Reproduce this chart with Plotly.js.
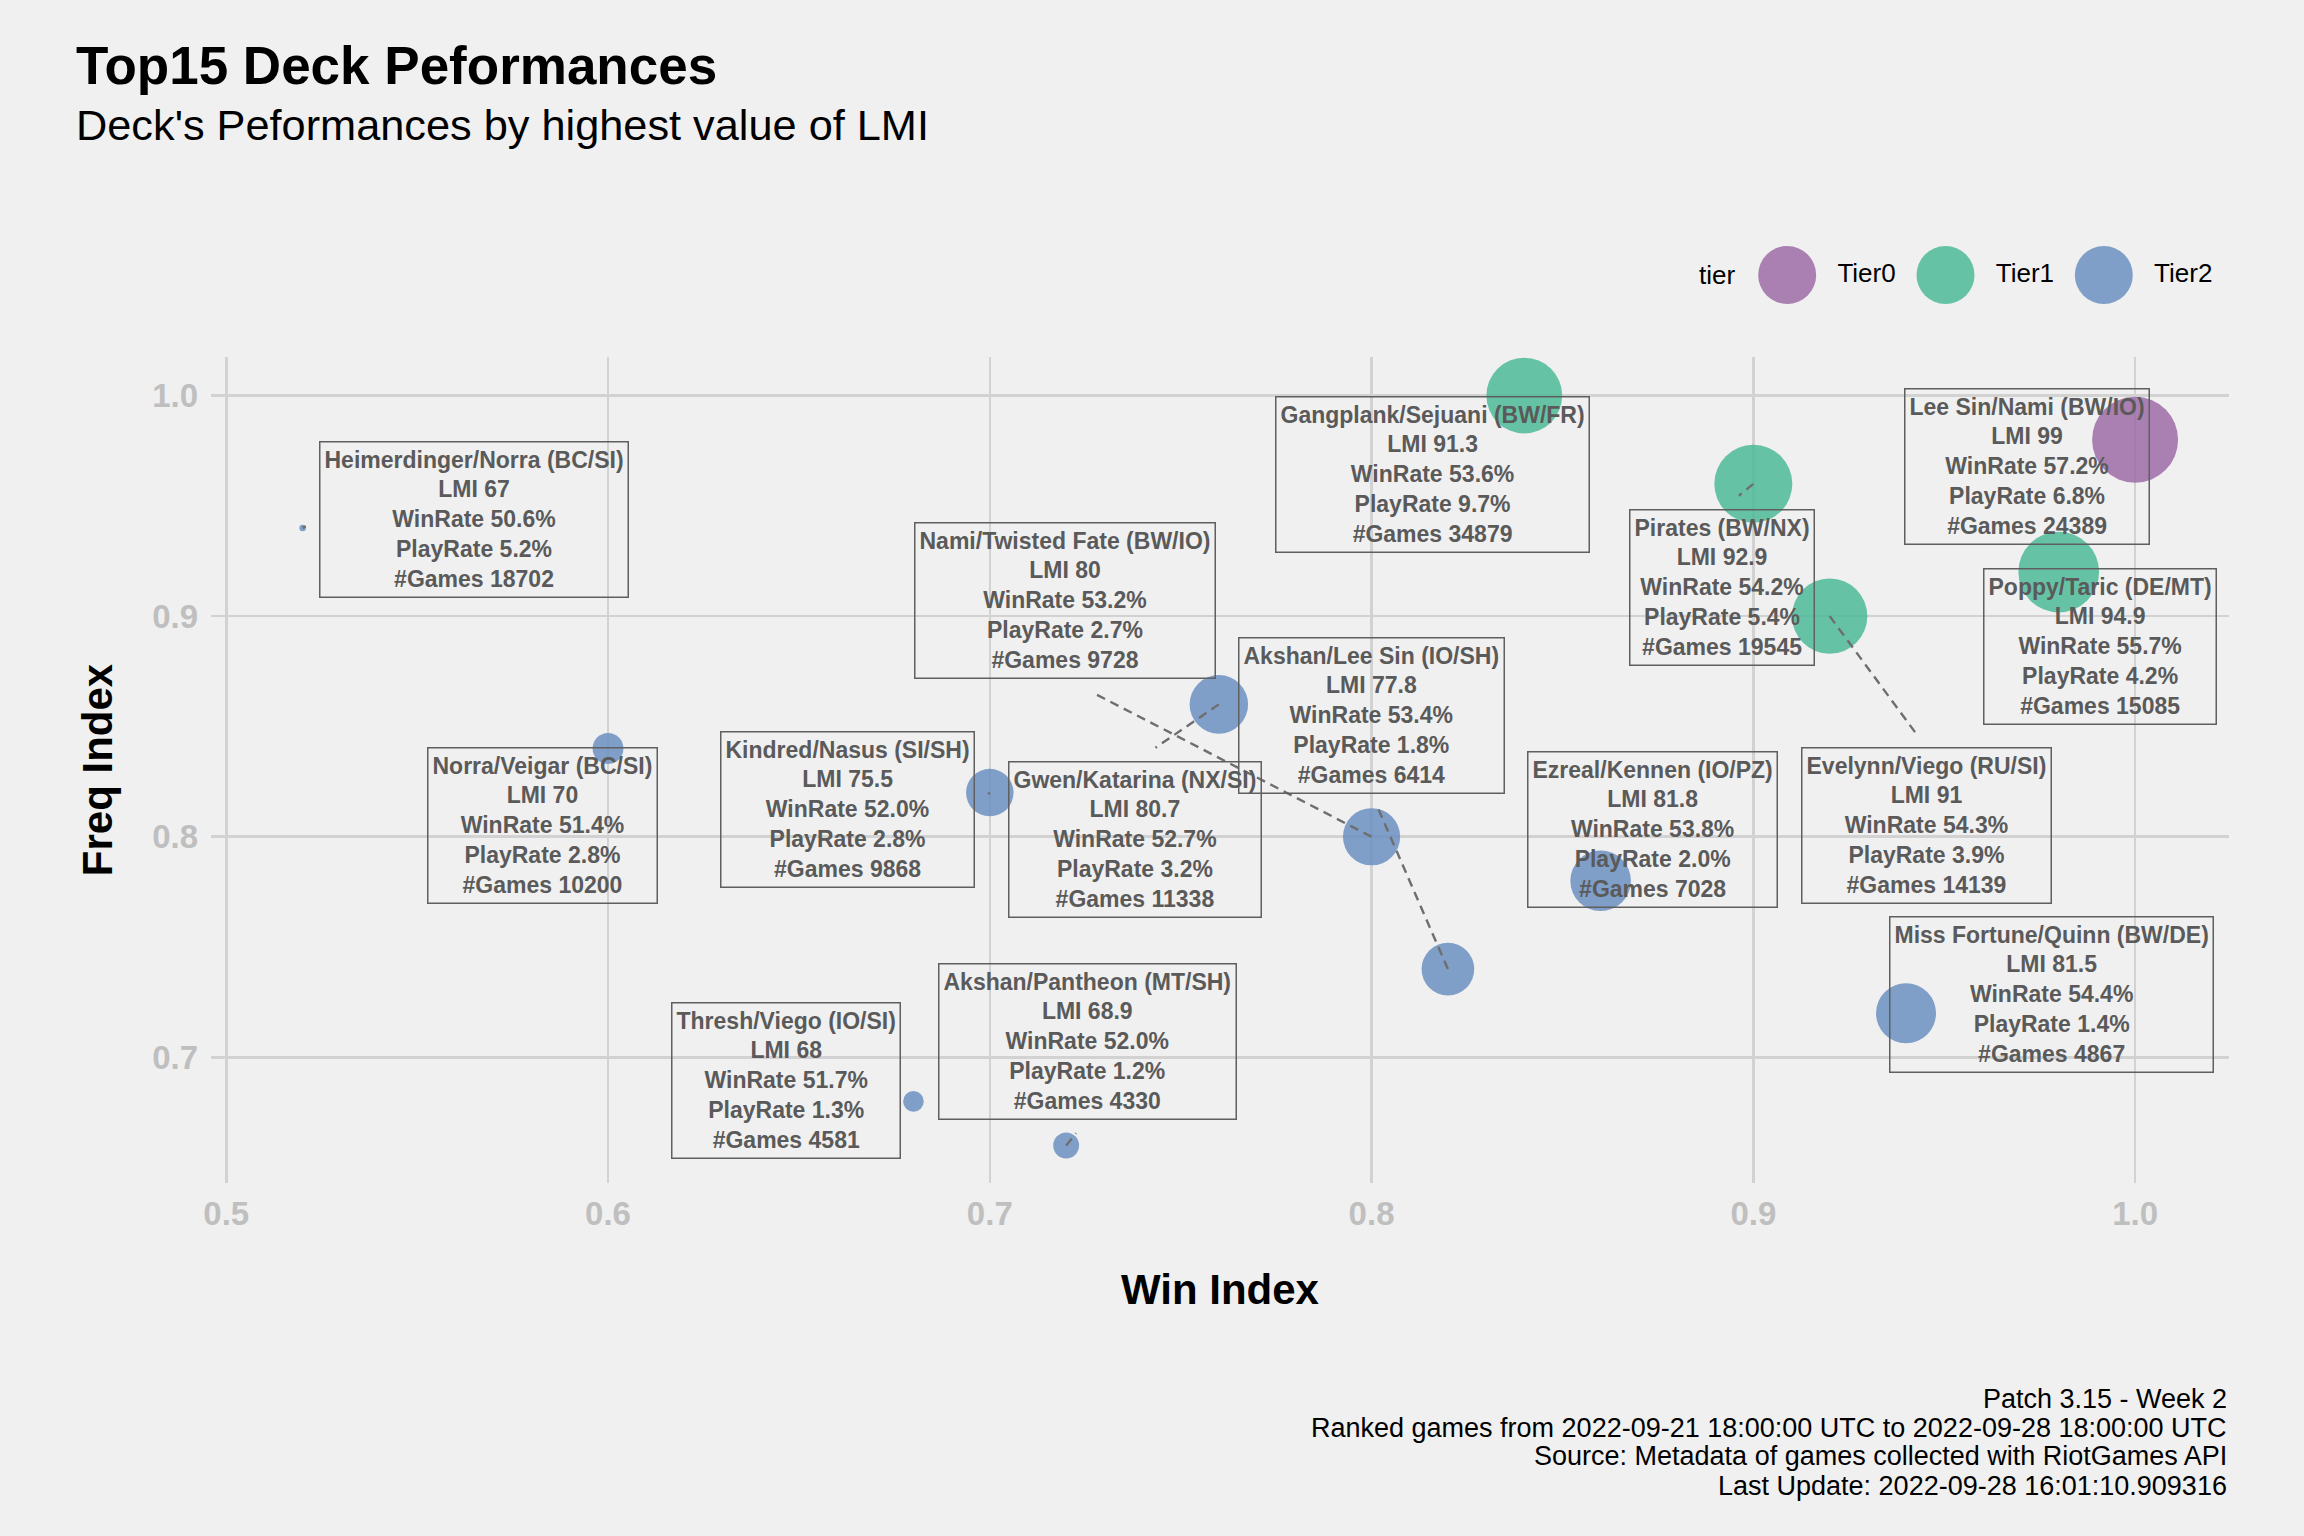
<!DOCTYPE html>
<html><head><meta charset="utf-8">
<script src="https://cdn.plot.ly/plotly-3.0.1.min.js"></script>
<style>html,body{margin:0;padding:0;background:#F0F0F0;} #chart{width:2304px;height:1536px;}</style>
</head><body><div id="chart"></div>
<script>
// ---------------- data ----------------
const decks = [
  'Lee Sin/Nami (BW/IO)', 'Gangplank/Sejuani (BW/FR)', 'Pirates (BW/NX)', 'Poppy/Taric (DE/MT)',
  'Evelynn/Viego (RU/SI)', 'Gwen/Katarina (NX/SI)', 'Norra/Veigar (BC/SI)', 'Kindred/Nasus (SI/SH)',
  'Nami/Twisted Fate (BW/IO)', 'Ezreal/Kennen (IO/PZ)', 'Akshan/Lee Sin (IO/SH)', 'Miss Fortune/Quinn (BW/DE)',
  'Heimerdinger/Norra (BC/SI)', 'Thresh/Viego (IO/SI)', 'Akshan/Pantheon (MT/SH)'
];
const tiers = ['Tier0','Tier1','Tier1','Tier1','Tier1','Tier2','Tier2','Tier2','Tier2','Tier2','Tier2','Tier2','Tier2','Tier2','Tier2'];
const winIndex  = [1.00, 0.84, 0.90, 0.98, 0.92, 0.76, 0.60, 0.70, 0.80, 0.86, 0.82, 0.94, 0.52, 0.68, 0.72];
const freqIndex = [0.98, 1.00, 0.96, 0.92, 0.90, 0.86, 0.84, 0.82, 0.80, 0.78, 0.74, 0.72, 0.94, 0.68, 0.66];
const lmi       = [99, 91.3, 92.9, 94.9, 91, 80.7, 70, 75.5, 80, 81.8, 77.8, 81.5, 67, 68, 68.9];
const winRate   = [57.2, 53.6, 54.2, 55.7, 54.3, 52.7, 51.4, 52.0, 53.2, 53.8, 53.4, 54.4, 50.6, 51.7, 52.0];
const playRate  = [6.8, 9.7, 5.4, 4.2, 3.9, 3.2, 2.8, 2.8, 2.7, 2.0, 1.8, 1.4, 5.2, 1.3, 1.2];
const nGames    = [24389, 34879, 19545, 15085, 14139, 11338, 10200, 9868, 9728, 7028, 6414, 4867, 18702, 4581, 4330];
const tierNames = ['Tier0','Tier1','Tier2'];
const xTicks = [0.5, 0.6, 0.7, 0.8, 0.9, 1.0];
const yTicks = [0.7, 0.8, 0.9, 1.0];
const captionLines = [
  'Patch 3.15 - Week 2',
  'Ranked games from 2022-09-21 18:00:00 UTC to 2022-09-28 18:00:00 UTC',
  'Source: Metadata of games collected with RiotGames API',
  'Last Update: 2022-09-28 16:01:10.909316'
];

// ---------------- layout helpers (label placement, styles) ----------------
const labelX = [0.9716, 0.8160, 0.8919, 0.9908, 0.9454, 0.7380, 0.5828, 0.6628, 0.7198, 0.8737, 0.8001, 0.9781, 0.5650, 0.6467, 0.7256];
const labelY = [0.9680, 0.9641, 0.9129, 0.8862, 0.8053, 0.7986, 0.8051, 0.8124, 0.9069, 0.8031, 0.8551, 0.7285, 0.9440, 0.6893, 0.7073];
const tierColors = {Tier0:'rgba(158,108,167,0.85)', Tier1:'rgba(78,186,152,0.85)', Tier2:'rgba(108,144,193,0.85)'};
const W = 2304, H = 1536;
const FONT = 'Liberation Sans, Arial, sans-serif';
const lmiMin = Math.min(...lmi), lmiMax = Math.max(...lmi);
function sizeOf(v){ return 6.5 + (86 - 6.5) * Math.sqrt((v - lmiMin) / (lmiMax - lmiMin)); }

const traces = tierNames.map(t => {
  const idx = decks.map((d,i)=>i).filter(i => tiers[i] === t);
  return {
    type:'scatter', mode:'markers', name:t,
    x: idx.map(i=>winIndex[i]), y: idx.map(i=>freqIndex[i]),
    marker:{size: idx.map(i=>sizeOf(lmi[i])), sizemode:'diameter', color: tierColors[t], opacity:1, line:{width:0}},
    hoverinfo:'skip', showlegend:false, cliponaxis:false
  };
});
// legend keys (custom, large keys)
traces.push({
  type:'scatter', mode:'markers+text', x: tierNames, y: tierNames.map(()=>0), xaxis:'x2', yaxis:'y2',
  text: tierNames.map(t=>'\u2002' + t), textposition:'middle right',
  textfont:{size:26, color:'#000', family:FONT},
  marker:{size:58, color: tierNames.map(t=>tierColors[t]), opacity:1, line:{width:0}},
  hoverinfo:'skip', showlegend:false, cliponaxis:false
});

const annotations = decks.map((d,i)=>({
  x: labelX[i], y: labelY[i], xref:'x', yref:'y', xanchor:'center', yanchor:'middle', showarrow:false,
  text: d + '<br>LMI ' + lmi[i] + '<br>WinRate ' + winRate[i].toFixed(1) + '%<br>PlayRate ' + playRate[i].toFixed(1) + '%<br>#Games ' + nGames[i],
  font:{family:FONT, size:23, color:'#5A5A5A', weight:700},
  bordercolor:'#5F5F5F', borderwidth:1.5, borderpad:4, bgcolor:'rgba(0,0,0,0)', align:'center'
}));
const capY = [1399, 1428, 1456, 1486];
captionLines.forEach((c,i)=>annotations.push({
  x: 2229/W, y: 1 - capY[i]/H, xref:'paper', yref:'paper', xanchor:'right', yanchor:'middle', showarrow:false,
  text: c, font:{family:FONT, size:27, color:'#000'}
}));
annotations.push({x:1737/W, y:1-275/H, xref:'paper', yref:'paper', xanchor:'right', yanchor:'middle', showarrow:false,
  text:'tier', font:{family:FONT, size:26, color:'#000'}});
annotations.push({x:74/W, y:1-125/H, xref:'paper', yref:'paper', xanchor:'left', yanchor:'middle', showarrow:false,
  text:"Deck's Peformances by highest value of LMI", font:{family:FONT, size:43.3, color:'#000'}});

const axisCommon = {
  showgrid:true, gridcolor:'#D2D2D2', gridwidth:2.5, zeroline:false, showline:false,
  ticks:'', tickfont:{family:FONT, size:33, color:'#BFBFBF', weight:700}, tickformat:'.1f'
};
const layout = {
  width:W, height:H, margin:{l:0,r:0,t:0,b:0,autoexpand:false},
  paper_bgcolor:'#F0F0F0', plot_bgcolor:'#F0F0F0', showlegend:false,
  font:{family:FONT},
  title:{text:'Top15 Deck Peformances', font:{family:FONT, size:53, color:'#000', weight:700},
         x:76/W, xanchor:'left', xref:'paper', y:1-65/H, yanchor:'middle', yref:'paper'},
  xaxis:Object.assign({}, axisCommon, {domain:[211/W, 2229/W], range:[0.496, 1.0246], tickvals:xTicks, ticklabelstandoff:8,
         title:{text:'Win Index', font:{family:FONT, size:42, color:'#000', weight:700}, standoff:43}}),
  yaxis:Object.assign({}, axisCommon, {domain:[1-1183/H, 1-357/H], range:[0.643, 1.0175], tickvals:yTicks, ticklabelstandoff:12,
         title:{text:'Freq Index', font:{family:FONT, size:42, color:'#000', weight:700}, standoff:26}}),
  xaxis2:{domain:[1708/W, 2183/W], range:[-0.5, 2.5], type:'category', visible:false, anchor:'y2', fixedrange:true},
  yaxis2:{domain:[1-295/H, 1-255/H], range:[-1, 1], visible:false, anchor:'x2', fixedrange:true},
  annotations: annotations
};

const gd = document.getElementById('chart');
Plotly.newPlot(gd, traces, layout, {staticPlot:true, displayModeBar:false}).then(() => {
  const xa = gd._fullLayout.xaxis, ya = gd._fullLayout.yaxis;
  const gb = gd.getBoundingClientRect();
  const groups = gd.querySelectorAll('.annotation');
  const shapes = [];
  const pad = 14, tol = 8;
  decks.forEach((d, i) => {
    const rect = groups[i] && groups[i].querySelector('rect.bg');
    if (!rect) return;
    const r = rect.getBoundingClientRect();
    const x1 = r.left - gb.left, x2 = r.right - gb.left, y1 = r.top - gb.top, y2 = r.bottom - gb.top;
    const px = xa._offset + xa.l2p(winIndex[i]), py = ya._offset + ya.l2p(freqIndex[i]);
    if (px >= x1 - tol && px <= x2 + tol && py >= y1 - tol && py <= y2 + tol) return;
    const cx = (x1 + x2) / 2, cy = (y1 + y2) / 2, hw = (x2 - x1) / 2, hh = (y2 - y1) / 2;
    const dx = px - cx, dy = py - cy;
    let tx, ty;
    if (Math.abs(dx) / hw > Math.abs(dy) / hh) { tx = dx > 0 ? x2 : x1; ty = cy; }
    else { tx = cx; ty = dy > 0 ? y2 : y1; }
    const sx = tx - px, sy = ty - py;
    const bx0 = x1 - pad, bx1 = x2 + pad, by0 = y1 - pad, by1 = y2 + pad;
    let tEnter = 0;
    const inside = px >= bx0 && px <= bx1 && py >= by0 && py <= by1;
    if (!inside) {
      let ex = -Infinity, ey = -Infinity;
      if (sx !== 0) { ex = Math.min((bx0 - px) / sx, (bx1 - px) / sx); } else if (px < bx0 || px > bx1) ex = 1;
      if (sy !== 0) { ey = Math.min((by0 - py) / sy, (by1 - py) / sy); } else if (py < by0 || py > by1) ey = 1;
      tEnter = Math.max(0, ex, ey);
    }
    const ex2 = px + tEnter * sx, ey2 = py + tEnter * sy;
    shapes.push({
      type:'line', xref:'x', yref:'y', layer:'above',
      x0: winIndex[i], y0: freqIndex[i],
      x1: xa.p2l(ex2 - xa._offset), y1: ya.p2l(ey2 - ya._offset),
      line:{color:'#6E6E6E', width:2.4, dash:'9px,6px'}
    });
  });
  return Plotly.relayout(gd, {shapes: shapes});
});
</script>
</body></html>
